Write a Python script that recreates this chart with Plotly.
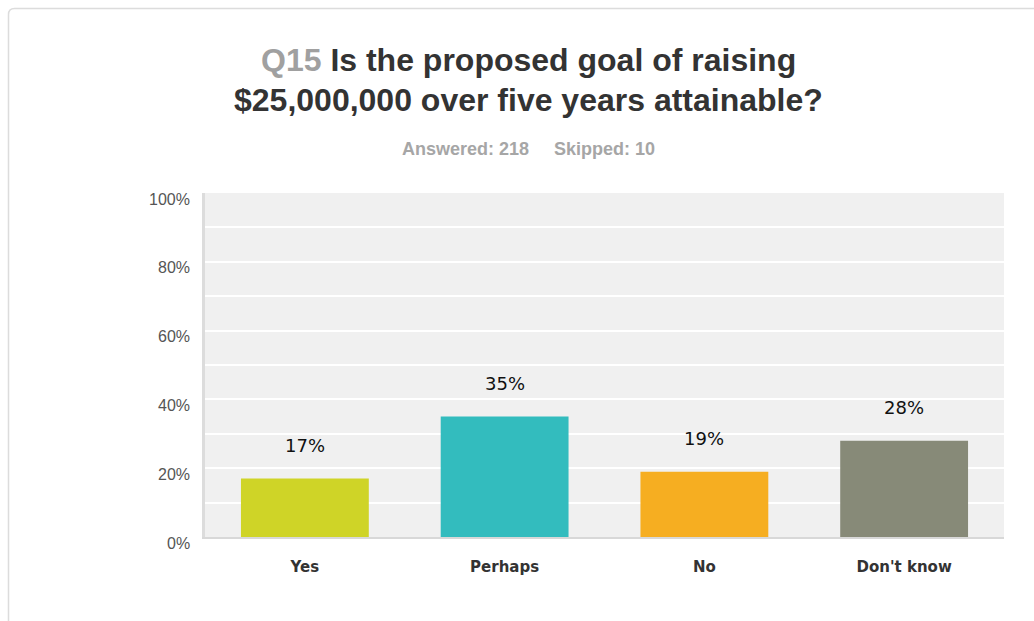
import plotly.graph_objects as go

# Survey results for Q15
categories = ["Yes", "Perhaps", "No", "Don't know"]
percentages = [17, 35, 19, 28]
bar_colors = ["#cfd427", "#33bcbe", "#f6ae21", "#878a78"]
y_ticks = [0, 20, 40, 60, 80, 100]
y_tick_labels = ["0%", "20%", "40%", "60%", "80%", "100%"]

W, H = 1034, 621
M_L, M_R, M_T, M_B = 205, 30, 193, 84
PLOT_W = W - M_L - M_R
PLOT_H = H - M_T - M_B


def px_x(px):
    """Page pixel x -> paper coordinate."""
    return (px - M_L) / PLOT_W


def px_y(py):
    """Page pixel y -> paper coordinate."""
    return (H - M_B - py) / PLOT_H


fig = go.Figure()
fig.add_trace(go.Bar(
    x=categories,
    y=percentages,
    marker=dict(color=bar_colors, line=dict(width=0)),
    width=0.64,
    hoverinfo="skip",
))

annotations = []
# value labels above bars
for cat, val in zip(categories, percentages):
    annotations.append(dict(
        x=cat, y=val, xref="x", yref="y", text=f"{val}%",
        showarrow=False, yanchor="bottom", yshift=21,
        font=dict(family="DejaVu Sans", size=18, color="#111111"),
    ))
# y axis labels
for v, t in zip(y_ticks, y_tick_labels):
    annotations.append(dict(
        x=0, y=v, xref="paper", yref="y", text=t, showarrow=False,
        xanchor="right", yanchor="middle", xshift=-13, yshift=-6,
        font=dict(family="Liberation Sans, Arial", size=16, color="#555555"),
    ))

cx = px_x(528)
title_font = dict(family="Liberation Sans, Arial", size=32, color="#333333")
annotations.append(dict(
    x=cx, y=px_y(60), xref="paper", yref="paper", showarrow=False,
    xanchor="center", yanchor="middle",
    text="<b><span style='color:#a0a0a0'>Q15</span> Is the proposed goal of raising</b>",
    font=title_font,
))
annotations.append(dict(
    x=cx, y=px_y(100), xref="paper", yref="paper", showarrow=False,
    xanchor="center", yanchor="middle",
    text="<b>$25,000,000 over five years attainable?</b>",
    font=title_font,
))
annotations.append(dict(
    x=cx, y=px_y(149), xref="paper", yref="paper", showarrow=False,
    xanchor="center", yanchor="middle",
    text="<b>Answered: 218&nbsp;&nbsp;&nbsp;&nbsp;&nbsp;Skipped: 10</b>",
    font=dict(family="Liberation Sans, Arial", size=18, color="#a6a6a6"),
))

# card outline around the chart
x0, y0, r = px_x(8.5), px_y(8.5), 6
x_r0, y_r0 = px_x(8.5 + r), px_y(8.5 + r)
x_end, y_end = px_x(W + 20), px_y(H + 20)
card_path = (
    f"M {x0},{y_end} L {x0},{y_r0} Q {x0},{y0} {x_r0},{y0} L {x_end},{y0}"
)

fig.update_layout(
    width=W, height=H,
    margin=dict(l=M_L, r=M_R, t=M_T, b=M_B),
    paper_bgcolor="white",
    plot_bgcolor="#f0f0f0",
    showlegend=False,
    bargap=0.36,
    annotations=annotations,
    shapes=[dict(type="path", path=card_path, xref="paper", yref="paper",
                 line=dict(color="#dcdcdc", width=1.5), layer="below")],
    xaxis=dict(
        showgrid=False, zeroline=False,
        showline=True, linecolor="#d8d8d8", linewidth=2,
        ticks="outside", ticklen=0, ticklabelstandoff=15,
        tickfont=dict(family="DejaVu Sans", size=15, color="#333333"),
        tickprefix="<b>", ticksuffix="</b>",
        fixedrange=True,
    ),
    yaxis=dict(
        range=[0, 100], tickvals=y_ticks, showticklabels=False,
        showgrid=True, gridcolor="white", gridwidth=1.5,
        minor=dict(dtick=10, showgrid=True, gridcolor="white", gridwidth=1.5),
        zeroline=False, showline=True, linecolor="#dcdcdc", linewidth=3,
        fixedrange=True,
    ),
)

fig.write_html("out.html")
